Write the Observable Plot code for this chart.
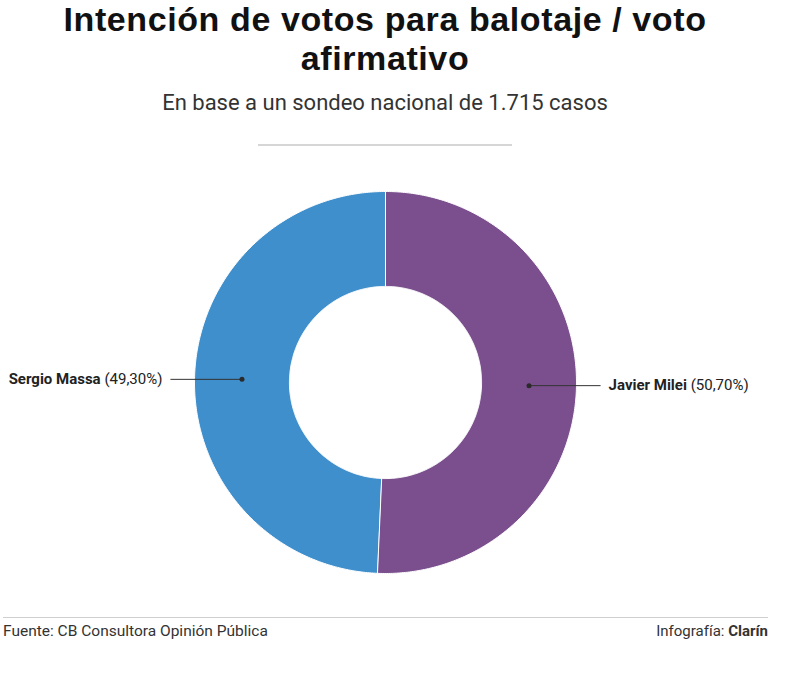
<!DOCTYPE html>
<html><head><meta charset="utf-8">
<script src="https://cdn.jsdelivr.net/npm/d3@7"></script>
<script src="https://cdn.jsdelivr.net/npm/@observablehq/plot@0.6"></script>
<style>
body{margin:0;background:#fff;width:800px;height:690px;position:relative;overflow:hidden;font-family:Roboto,"Liberation Sans",sans-serif;color:#222;}
#title{position:absolute;left:0;top:0px;width:770px;text-align:center;font-family:"Liberation Sans",sans-serif;font-weight:700;font-size:34px;line-height:39px;color:#111;letter-spacing:0.6px;}
#subtitle{position:absolute;left:0;top:91px;width:770px;text-align:center;font-size:22px;line-height:24px;color:#333;font-weight:400;}
#rule{position:absolute;left:258px;top:144px;width:254px;height:2px;background:#d6d6d6;}
#chart{position:absolute;left:0;top:150px;}
#frule{position:absolute;left:3px;top:617px;width:765px;height:1px;background:#cfcfcf;}
#source{position:absolute;left:3px;top:623px;font-size:15.5px;line-height:17px;color:#333;}
#credit{position:absolute;right:32px;top:623px;font-size:15px;line-height:17px;color:#333;}
</style></head><body>
<div id="title">Intención de votos para balotaje / voto<br>afirmativo</div>
<div id="subtitle">En base a un sondeo nacional de 1.715 casos</div>
<div id="rule"></div>
<div id="chart"></div>
<div id="frule"></div>
<div id="source">Fuente: CB Consultora Opinión Pública</div>
<div id="credit">Infografía: <b>Clarín</b></div>
<script>
const candidates = ["Javier Milei", "Sergio Massa"];
const shares = [50.7, 49.3];
const shareLabels = ["50,70%", "49,30%"];
const sliceColors = ["#7b4f8e", "#3f8fcc"];

const innerRatio = 0.503;
const pie = d3.pie().sort(null).value(d => d)(shares);

const ring = [];
const labels = [];
pie.forEach((p, i) => {
  const span = p.endAngle - p.startAngle;
  const n = Math.max(2, Math.ceil(span / 0.01));
  const pts = [];
  for (let k = 0; k <= n; k++) {
    const a = p.startAngle + span * k / n;
    pts.push([Math.sin(a), Math.cos(a)]);
  }
  for (let k = n; k >= 0; k--) {
    const a = p.startAngle + span * k / n;
    pts.push([Math.sin(a) * innerRatio, Math.cos(a) * innerRatio]);
  }
  pts.forEach(([x, y]) => ring.push({name: candidates[i], x, y}));
  const mid = (p.startAngle + p.endAngle) / 2;
  const rm = (1 + innerRatio) / 2;
  const cx = Math.sin(mid) * rm, cy = Math.cos(mid) * rm;
  const side = cx >= 0 ? 1 : -1;
  labels.push({
    name: candidates[i], cx, cy, side,
    lx: side * 1.126, tx: side * 1.168,
    label: `${candidates[i]} (${shareLabels[i]})`
  });
});

const W = 770, H = 460, CX = 385, CY = 232, R = 191;
const chart = Plot.plot({
  width: W, height: H, margin: 0,
  style: {fontFamily: "Roboto, sans-serif", fontSize: "15px", color: "#222", background: "transparent"},
  x: {domain: [-1, 1], range: [CX - R, CX + R], axis: null},
  y: {domain: [-1, 1], range: [CY + R, CY - R], axis: null},
  color: {domain: candidates, range: sliceColors},
  marks: [
    Plot.line(ring, {x: "x", y: "y", z: "name", fill: "name", stroke: "white", strokeWidth: 1, curve: "linear-closed"}),
    Plot.link(labels, {x1: "cx", y1: "cy", x2: "lx", y2: "cy", stroke: "#333", strokeWidth: 1}),
    Plot.dot(labels, {x: "cx", y: "cy", r: 2.5, fill: "#2a2a2a"}),
    Plot.text(labels.filter(d => d.side > 0), {x: "tx", y: "cy", text: "label", textAnchor: "start", fill: "#222"}),
    Plot.text(labels.filter(d => d.side < 0), {x: "tx", y: "cy", text: "label", textAnchor: "end", fill: "#222"})
  ]
});
document.getElementById("chart").appendChild(chart);
d3.select(chart).selectAll("text").each(function() {
  const t = this.textContent;
  const m = t.match(/^(.*) (\(.*\))$/);
  if (!m) return;
  const el = d3.select(this);
  el.text(null);
  el.append("tspan").attr("font-weight", 700).text(m[1]);
  el.append("tspan").text(" " + m[2]);
});
</script>
</body></html>
